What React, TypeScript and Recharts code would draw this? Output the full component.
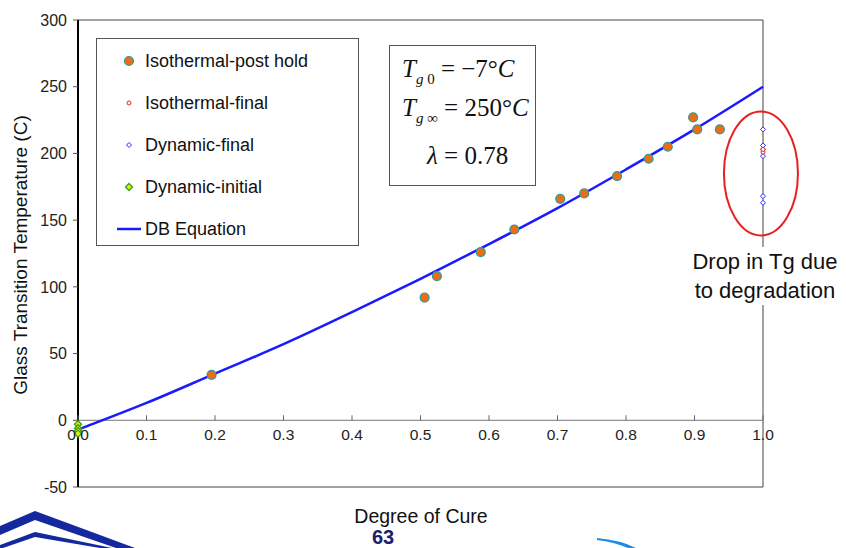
import React from 'react';
import {
  ComposedChart, Scatter, Line, XAxis, YAxis, ReferenceArea, ReferenceLine, ReferenceDot,
} from 'recharts';

// Isothermal-post hold
const postHoldCure = [0.195, 0.506, 0.524, 0.588, 0.637, 0.704, 0.739, 0.787, 0.833, 0.861, 0.898, 0.904, 0.937];
const postHoldTg = [34, 92, 108, 126, 143, 166, 170, 183, 196, 205, 227, 218, 218];

// Isothermal-final (all at full cure)
const isoFinalTg = [201, 203];
// Dynamic-final (all at full cure)
const dynFinalTg = [218, 206, 203, 198, 168, 163];
// Dynamic-initial (uncured)
const dynInitialTg = [-3, -6, -8, -10];

// DB equation curve
const dbCure = [0, 0.1, 0.2, 0.3, 0.4, 0.5, 0.6, 0.7, 0.8, 0.9, 1.0];
const dbTg = [-7, 13, 35, 57, 81, 106, 132, 159, 188, 218, 250];

const xTicks = [0, 0.1, 0.2, 0.3, 0.4, 0.5, 0.6, 0.7, 0.8, 0.9, 1.0];
const yTicks = [-50, 0, 50, 100, 150, 200, 250, 300];

const postHold = postHoldCure.map((x, i) => ({ x, y: postHoldTg[i] }));
const isoFinal = isoFinalTg.map((y) => ({ x: 1, y }));
const dynFinal = dynFinalTg.map((y) => ({ x: 1, y }));
const dynInitial = dynInitialTg.map((y) => ({ x: 0, y }));
const dbData = dbCure.map((x, i) => ({ x, y: dbTg[i] }));

const W = 846;
const H = 548;
const TOP = 20;
const PLOT_H = 467;
const ZERO_Y = TOP + (PLOT_H * 300) / 350;
const FONT = '"Liberation Sans", Arial, sans-serif';
const SERIF = '"Liberation Serif", "Times New Roman", serif';

const XTick = (props: any) => {
  const { x, payload } = props;
  return (
    <g>
      <line x1={x} x2={x} y1={ZERO_Y} y2={ZERO_Y - 5} stroke="#666" />
      <text x={x} y={ZERO_Y + 20} textAnchor="middle" fontSize={15.5} fill="#222" fontFamily={FONT}>
        {Number(payload.value).toFixed(1)}
      </text>
    </g>
  );
};

const PostHoldDot = (p: any) => (
  <circle cx={p.cx} cy={p.cy} r={4.4} fill="#f26b12" stroke="#3a9a96" strokeWidth={1.4} />
);
const IsoFinalDot = (p: any) => (
  <circle cx={p.cx} cy={p.cy} r={2} fill="#fff" stroke="#f02020" strokeWidth={1} />
);
const Diamond = (cx: number, cy: number, r: number, fill: string, stroke: string, sw: number) => (
  <polygon
    points={`${cx},${cy - r} ${cx + r},${cy} ${cx},${cy + r} ${cx - r},${cy}`}
    fill={fill}
    stroke={stroke}
    strokeWidth={sw}
  />
);
const DynFinalDot = (p: any) => Diamond(p.cx, p.cy, 2.5, '#fff', '#2a2aff', 1);
const DynInitialDot = (p: any) => Diamond(p.cx, p.cy, 3.5, '#e8f000', '#3aa020', 1.4);

const Ellipse = (p: any) => (
  <ellipse cx={p.cx} cy={p.cy} rx={37} ry={62} fill="none" stroke="#e82020" strokeWidth={2} />
);

const legendRows = [
  { label: 'Isothermal-post hold', icon: <circle cx={12} cy={8} r={4.4} fill="#f26b12" stroke="#3a9a96" strokeWidth={1.4} /> },
  { label: 'Isothermal-final', icon: <circle cx={12} cy={8} r={2} fill="#fff" stroke="#f02020" /> },
  { label: 'Dynamic-final', icon: <polygon points="12,5.5 14.5,8 12,10.5 9.5,8" fill="#fff" stroke="#2a2aff" /> },
  { label: 'Dynamic-initial', icon: <polygon points="12,4.5 15.5,8 12,11.5 8.5,8" fill="#e8f000" stroke="#3aa020" strokeWidth={1.4} /> },
  { label: 'DB Equation', icon: <line x1={0} x2={24} y1={8} y2={8} stroke="#1a1aff" strokeWidth={2.5} /> },
];

const Sub = ({ children }: { children: React.ReactNode }) => (
  <span style={{ fontSize: 15, position: 'relative', top: 7 }}>{children}</span>
);

export default function App() {
  return (
    <div style={{ position: 'absolute', left: 0, top: 0, width: W, height: H, background: '#fff', overflow: 'hidden', fontFamily: FONT }}>
      <ComposedChart width={W} height={H} margin={{ top: TOP, right: 83, bottom: 31, left: 0 }}>
        <XAxis
          type="number"
          dataKey="x"
          domain={[0, 1]}
          ticks={xTicks}
          axisLine={false}
          tickLine={false}
          tick={<XTick />}
          height={30}
        />
        <YAxis
          type="number"
          dataKey="y"
          domain={[-50, 300]}
          ticks={yTicks}
          width={78}
          axisLine={{ stroke: '#000', strokeWidth: 2 }}
          tickLine={{ stroke: '#555' }}
          tickSize={5}
          tickMargin={6}
          tick={{ fontSize: 16, fill: '#222', fontFamily: FONT }}
        />
        <ReferenceArea x1={0} x2={1} y1={-50} y2={300} fill="none" stroke="#444" strokeWidth={1} />
        <ReferenceLine y={0} stroke="#777" strokeWidth={1} />
        <ReferenceDot x={0.997} y={185} shape={Ellipse} />
        <Line
          data={dbData}
          dataKey="y"
          type="monotone"
          stroke="#1a1aff"
          strokeWidth={2.5}
          dot={false}
          legendType="none"
          isAnimationActive={false}
        />
        <Scatter data={postHold} shape={PostHoldDot} isAnimationActive={false} />
        <Scatter data={dynInitial} shape={DynInitialDot} isAnimationActive={false} />
        <Scatter data={dynFinal} shape={DynFinalDot} isAnimationActive={false} />
        <Scatter data={isoFinal} shape={IsoFinalDot} isAnimationActive={false} />
      </ComposedChart>

      {/* legend box */}
      <div style={{ position: 'absolute', left: 96, top: 38, width: 263, height: 208, border: '1px solid #555', background: '#fff', boxSizing: 'border-box' }}>
        {legendRows.map((r, i) => (
          <div key={r.label} style={{ position: 'absolute', left: 20, top: 12 + i * 42, display: 'flex', alignItems: 'center', height: 20 }}>
            <svg width={28} height={16}>{r.icon}</svg>
            <span style={{ fontSize: 18, color: '#111' }}>{r.label}</span>
          </div>
        ))}
      </div>

      {/* equation box */}
      <div style={{ position: 'absolute', left: 389, top: 45, width: 147, height: 141, border: '1px solid #555', background: '#fff', boxSizing: 'border-box', fontFamily: SERIF, fontSize: 25, color: '#111' }}>
        <div style={{ position: 'absolute', left: 12, top: 9, whiteSpace: 'nowrap' }}>
          <i>T</i><Sub><i>g</i> 0</Sub> = −7°<i>C</i>
        </div>
        <div style={{ position: 'absolute', left: 12, top: 48, whiteSpace: 'nowrap' }}>
          <i>T</i><Sub><i>g</i> ∞</Sub> = 250°<i>C</i>
        </div>
        <div style={{ position: 'absolute', left: 37, top: 96, whiteSpace: 'nowrap' }}>
          <i>λ</i> = 0.78
        </div>
      </div>

      {/* annotation */}
      <div style={{ position: 'absolute', left: 684, top: 247, width: 162, height: 58, background: '#fff', textAlign: 'center', fontSize: 22, lineHeight: '29px', color: '#111', whiteSpace: 'nowrap' }}>
        Drop in Tg due<br />to degradation
      </div>

      {/* axis titles */}
      <div style={{ position: 'absolute', left: 21, top: 255, transform: 'translate(-50%, -50%) rotate(-90deg)', whiteSpace: 'nowrap', fontSize: 19, color: '#111' }}>
        Glass Transition Temperature (C)
      </div>
      <div style={{ position: 'absolute', left: 421, top: 516, transform: 'translate(-50%, -50%)', whiteSpace: 'nowrap', fontSize: 19.5, color: '#111' }}>
        Degree of Cure
      </div>
      <div style={{ position: 'absolute', left: 383, top: 537, transform: 'translate(-50%, -50%)', fontSize: 20, lineHeight: '22px', fontWeight: 'bold', color: '#1a2070' }}>
        63
      </div>

      {/* slide decorations */}
      <svg style={{ position: 'absolute', left: 0, top: 0 }} width={W} height={H}>
        <polygon points="0,526 35,511 135,548 116,548 35,520 0,535" fill="#1428a0" />
        <polygon points="0,545 35,532 112,548 100,548 35,537 0,549" fill="#1428a0" />
        <path d="M597,538 Q620,540 636,548 L628,548 Q614,542 597,540 Z" fill="#1e8ce6" />
      </svg>
    </div>
  );
}
